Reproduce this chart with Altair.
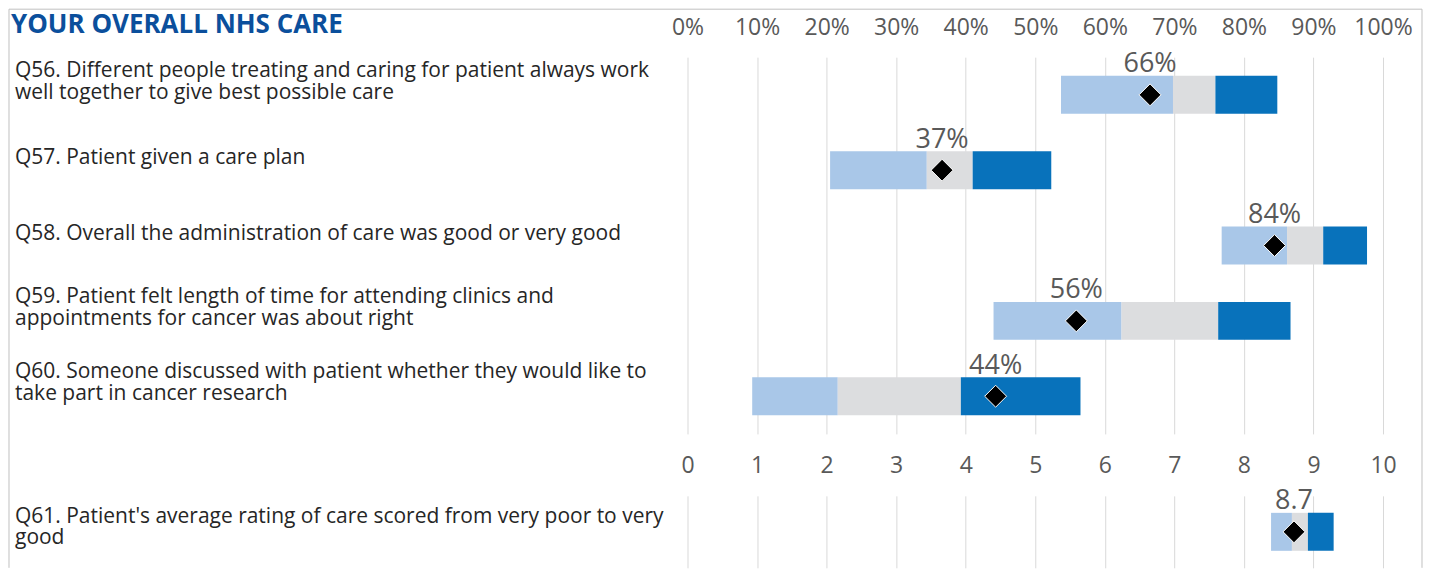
import altair as alt
import pandas as pd

# ---- data ----
questions = ["Q56", "Q57", "Q58", "Q59", "Q60"]
question_line1 = [
    "Q56. Different people treating and caring for patient always work",
    "Q57. Patient given a care plan",
    "Q58. Overall the administration of care was good or very good",
    "Q59. Patient felt length of time for attending clinics and",
    "Q60. Someone discussed with patient whether they would like to",
]
question_line2 = [
    "well together to give best possible care",
    "",
    "",
    "appointments for cancer was about right",
    "take part in cancer research",
]
low = [53.7, 20.5, 76.8, 44.0, 9.3]
light_end = [69.8, 34.4, 86.2, 62.4, 21.6]
grey_end = [75.9, 41.0, 91.4, 76.3, 39.3]
high = [84.8, 52.3, 97.7, 86.7, 56.5]
score = [66.5, 36.6, 84.4, 55.9, 44.3]
score_text = ["66%", "37%", "84%", "56%", "44%"]

q61 = ["Q61"]
q61_line1 = ["Q61. Patient's average rating of care scored from very poor to very"]
q61_line2 = ["good"]
q61_low = [8.39]
q61_light_end = [8.69]
q61_grey_end = [8.92]
q61_high = [9.29]
q61_score = [8.72]
q61_text = ["8.7"]

pct_ticks = list(range(0, 101, 10))
rating_ticks = list(range(0, 11))

title_text = "YOUR OVERALL NHS CARE"

LIGHT = "#a9c7e8"
GREY = "#dcdddf"
DARK = "#0872bb"
FONT = "Open Sans"
PLOT_W = 696
TOP_H = 377
BOT_H = 72
SPACING = 62


def segments(qs, lo, le, ge, hi):
    rows = []
    for i, q in enumerate(qs):
        rows.append({"q": q, "start": lo[i], "end": le[i], "seg": "low"})
        rows.append({"q": q, "start": le[i], "end": ge[i], "seg": "mid"})
        rows.append({"q": q, "start": ge[i], "end": hi[i], "seg": "high"})
    return pd.DataFrame(rows)


def panel(qs, l1, l2, lo, le, ge, hi, sc, st, domain, ticks, label_expr, height, dy1, dy2):
    seg_df = segments(qs, lo, le, ge, hi)
    pt_df = pd.DataFrame({"q": qs, "score": sc, "txt": st, "l1": l1, "l2": l2})
    two = pt_df[pt_df["l2"] != ""]
    one_line = pt_df[pt_df["l2"] == ""]
    y = alt.Y("q:N", sort=qs, axis=None, scale=alt.Scale(paddingInner=0, paddingOuter=0))
    xscale = alt.Scale(domain=domain, nice=False, zero=False)
    xaxis = alt.Axis(
        orient="top", values=ticks, labelExpr=label_expr, title=None,
        domain=False, ticks=False, grid=True, gridColor="#d9d9d9", gridWidth=1,
        labelFont=FONT, labelFontSize=23, labelColor="#595959", labelPadding=18,
        labelFlush=False,
    )
    bars = alt.Chart(seg_df).mark_bar(size=38).encode(
        x=alt.X("start:Q", scale=xscale, axis=xaxis),
        x2="end:Q",
        y=y,
        color=alt.Color("seg:N", scale=alt.Scale(domain=["low", "mid", "high"], range=[LIGHT, GREY, DARK]), legend=None),
    )
    base = alt.Chart(pt_df)
    diamonds = base.mark_point(shape="diamond", filled=True, size=480, fill="black",
                               stroke="white", strokeWidth=1, opacity=1).encode(
        x=alt.X("score:Q", scale=xscale), y=y)
    vals = base.mark_text(font=FONT, fontSize=27, color="#595959", baseline="alphabetic", dy=-22.5).encode(
        x=alt.X("score:Q", scale=xscale), y=y, text="txt:N")
    txt_style = dict(font=FONT, fontSize=21, color="#262626", align="left", baseline="middle")
    layers = [bars, diamonds, vals]
    if len(two):
        layers.append(alt.Chart(two).mark_text(dy=dy1, **txt_style).encode(
            x=alt.value(-673), y=y, text="l1:N"))
        layers.append(alt.Chart(two).mark_text(dy=dy2, **txt_style).encode(
            x=alt.value(-673), y=y, text="l2:N"))
    if len(one_line):
        layers.append(alt.Chart(one_line).mark_text(dy=-12, **txt_style).encode(
            x=alt.value(-673), y=y, text="l1:N"))
    return alt.layer(*layers).properties(width=PLOT_W, height=height)


top = panel(questions, question_line1, question_line2, low, light_end, grey_end, high, score, score_text,
            [0, 100], pct_ticks, "datum.value + '%'", TOP_H, -24, -2)

one = pd.DataFrame({"k": [0]})
frame_bottom = TOP_H + SPACING + BOT_H
frame_top = alt.Chart(one).mark_rule(color="#c0c0c0", strokeWidth=1).encode(
    x=alt.value(-679), x2=alt.value(735), y=alt.value(-48))
frame_left = alt.Chart(one).mark_rule(color="#c0c0c0", strokeWidth=1).encode(
    x=alt.value(-679), y=alt.value(-48), y2=alt.value(frame_bottom))
frame_right = alt.Chart(one).mark_rule(color="#c0c0c0", strokeWidth=1).encode(
    x=alt.value(735), y=alt.value(-48), y2=alt.value(frame_bottom))
title = alt.Chart(one).mark_text(text=title_text, font=FONT, fontSize=26, fontWeight="bold",
                                 color="#0b4f9c", align="left", baseline="middle").encode(
    x=alt.value(-677), y=alt.value(-32))

top = alt.layer(top, frame_top, frame_left, frame_right, title)

bottom = panel(q61, q61_line1, q61_line2, q61_low, q61_light_end, q61_grey_end, q61_high, q61_score, q61_text,
               [0, 10], rating_ticks, "datum.value", BOT_H, -15, 6)

chart = alt.vconcat(top, bottom, spacing=SPACING, bounds="flush").properties(
    padding=0, background="white"
).configure_view(stroke=None)

chart.save("out.html", embed_options={"renderer": "svg", "actions": False})
